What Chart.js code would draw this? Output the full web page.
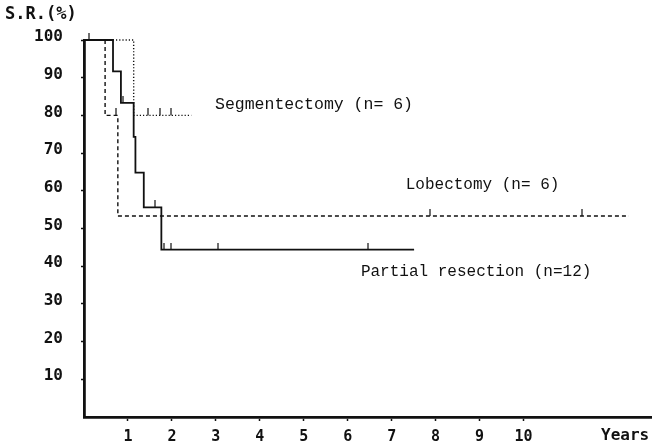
<!DOCTYPE html>
<html>
<head>
<meta charset="utf-8">
<script src="https://cdn.jsdelivr.net/npm/chart.js@4"></script>
<style>
  body { margin: 0; background: #fff; }
  #wrap { width: 656px; height: 448px; }
</style>
</head>
<body>
<div id="wrap"><canvas id="srChart" width="656" height="448"></canvas></div>
<script>
// Survival curves (years, survival rate %)
const partialTimes = [0, 0.66, 0.84, 1.13, 1.17, 1.36, 1.76, 7.51];
const partialSR = [100, 91.7, 83.3, 74.3, 64.8, 55.6, 44.4, 44.4];
const partialCensor = [0.11, 0.88, 1.61, 1.83, 1.99, 3.05, 6.45];

const segTimes = [0, 1.13, 2.44];
const segSR = [100, 80, 80];
const segCensor = [1.45, 1.72, 1.99];

const lobTimes = [0, 0.48, 0.77, 12.4];
const lobSR = [100, 80, 53.3, 53.3];
const lobCensor = [0.72, 7.87, 11.33];

const yTicks = [10, 20, 30, 40, 50, 60, 70, 80, 90, 100];
const xTicks = [1, 2, 3, 4, 5, 6, 7, 8, 9, 10];

const seriesLabels = ["Segmentectomy (n= 6)", "Lobectomy (n= 6)", "Partial resection (n=12)"];

function toPoints(times, values) {
    return times.map((t, i) => ({ x: t, y: values[i] }));
}

// value of the step curve at time t
function survivalAt(times, values, t) {
    let v = values[0];
    for (let i = 0; i < times.length; i++) {
        if (times[i] <= t) v = values[i];
    }
    return v;
}

function censorPoints(censor, times, values) {
    return censor.map(t => ({ x: t, y: survivalAt(times, values, t) }));
}

// little upward tick used for censored cases
const tickMark = document.createElement("canvas");
tickMark.width = 2;
tickMark.height = 14;
const tctx = tickMark.getContext("2d");
tctx.fillStyle = "#111";
tctx.fillRect(0.4, 0, 1.2, 7);

const textPlugin = {
    id: "textLabels",
    afterDraw(chart) {
        const ctx = chart.ctx;
        const xs = chart.scales.x, ys = chart.scales.y;
        ctx.save();
        ctx.fillStyle = "#111";
        ctx.textBaseline = "middle";
        ctx.font = "bold 17px 'DejaVu Sans Mono'";
        ctx.fillText("S.R.(%)", 5, 15);
        ctx.font = "bold 16px 'DejaVu Sans Mono'";
        ctx.fillText("Years", 601, 436);
        ctx.font = "16.5px 'Liberation Mono'";
        ctx.fillText(seriesLabels[0], xs.getPixelForValue(2.98), ys.getPixelForValue(82.8));
        ctx.font = "16px 'Liberation Mono'";
        ctx.fillText(seriesLabels[1], xs.getPixelForValue(7.32), ys.getPixelForValue(61.5));
        ctx.fillText(seriesLabels[2], xs.getPixelForValue(6.3), ys.getPixelForValue(38.5));
        ctx.restore();
    }
};

const ctx = document.getElementById("srChart").getContext("2d");
new Chart(ctx, {
    type: "line",
    data: {
        datasets: [
            {
                data: toPoints(lobTimes, lobSR),
                stepped: "before",
                borderColor: "#111",
                borderWidth: 1.4,
                borderDash: [4, 3],
                pointRadius: 0
            },
            {
                data: toPoints(segTimes, segSR),
                stepped: "before",
                borderColor: "#111",
                borderWidth: 1.4,
                borderDash: [1.2, 2],
                pointRadius: 0
            },
            {
                data: toPoints(partialTimes, partialSR),
                stepped: "before",
                borderColor: "#111",
                borderWidth: 1.8,
                pointRadius: 0
            },
            {
                type: "scatter",
                data: censorPoints(partialCensor, partialTimes, partialSR)
                    .concat(censorPoints(segCensor, segTimes, segSR))
                    .concat(censorPoints(lobCensor, lobTimes, lobSR)),
                pointStyle: tickMark,
                showLine: false
            }
        ]
    },
    options: {
        responsive: false,
        animation: false,
        clip: false,
        layout: { padding: { top: 40, right: 2, left: 0, bottom: 0 } },
        plugins: { legend: { display: false }, tooltip: { enabled: false } },
        scales: {
            x: {
                type: "linear",
                min: 0,
                max: 12.9,
                afterFit(scale) { scale.height = 31; },
                afterBuildTicks(scale) {
                    scale.ticks = xTicks.map(v => ({ value: v }));
                },
                border: { color: "#111", width: 2.8 },
                grid: { drawOnChartArea: false, tickLength: 4, tickColor: "#111", tickWidth: 1.5 },
                ticks: {
                    color: "#111",
                    padding: 7,
                    font: { family: "'DejaVu Sans Mono'", size: 15, weight: "bold" }
                }
            },
            y: {
                min: 0,
                max: 100,
                afterFit(scale) { scale.width = 84; },
                afterBuildTicks(scale) {
                    scale.ticks = yTicks.map(v => ({ value: v }));
                },
                border: { color: "#111", width: 2.8 },
                grid: { drawOnChartArea: false, tickLength: 3, tickColor: "#111", tickWidth: 1.5 },
                ticks: {
                    color: "#111",
                    padding: 18,
                    labelOffset: -3,
                    font: { family: "'DejaVu Sans Mono'", size: 16, weight: "bold" }
                }
            }
        }
    },
    plugins: [textPlugin]
});
</script>
</body>
</html>
